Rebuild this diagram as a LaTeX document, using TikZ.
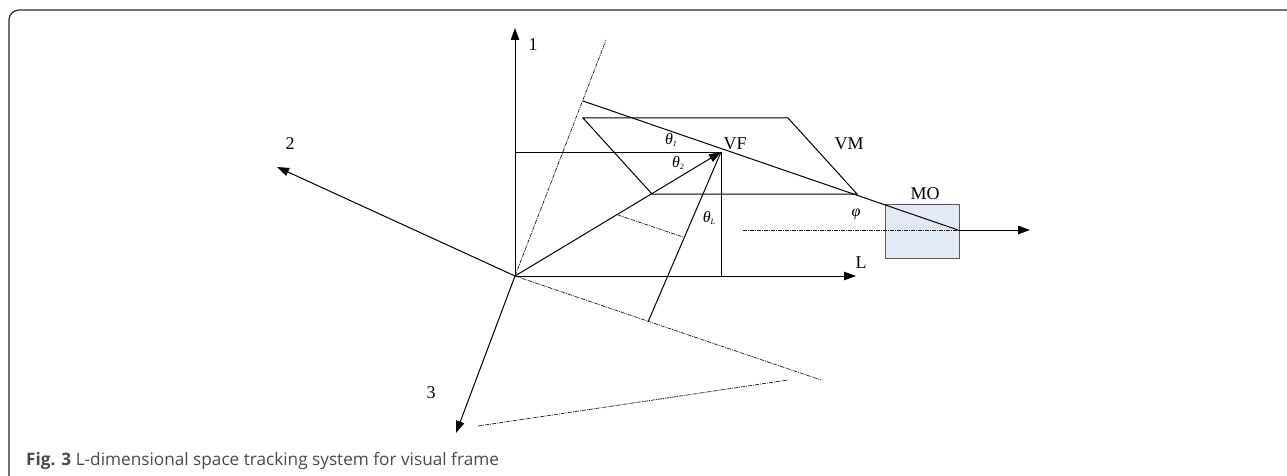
\documentclass[tikz,border=0pt]{standalone}
\usepackage{fontspec}
\setmainfont{Liberation Serif}
\newfontfamily\capfont{Open Sans}
\usetikzlibrary{arrows.meta}
\definecolor{boxfill}{HTML}{E4EAF5}
\definecolor{capgray}{HTML}{4A4A4A}
\newcommand{\subtxt}[1]{\raisebox{-2.5pt}{\fontsize{8}{8}\selectfont #1}}
\tikzset{
  ax/.style={line width=1pt,black,-{Triangle[length=12pt,width=8.5pt]}},
  ln/.style={line width=1pt,black},
  dd/.style={line width=0.7pt,black!90,dash pattern=on 4pt off 1pt on 1pt off 1pt},
  lab/.style={inner sep=0pt,font=\fontsize{18}{18}\selectfont},
  sm/.style={inner sep=0pt,font=\fontsize{16}{16}\selectfont\itshape}
}
\begin{document}
\begin{tikzpicture}[x=1pt,y=-1pt]
\useasboundingbox (0,0) rectangle (1287,476);
\draw[line width=1.2pt,black!85,rounded corners=10pt] (9,476) -- (9,10) -- (1287,10);
\coordinate (O) at (515,276);
\coordinate (A1) at (515,28);
\coordinate (A2) at (277,167);
\coordinate (A3) at (456,433);
\coordinate (AL) at (856,276);
\coordinate (VF) at (721,152);
\coordinate (H) at (515,152);
\coordinate (VB) at (721,276);
\coordinate (D1) at (606,40);
\coordinate (T1) at (583,101);
\coordinate (E) at (958,230);
\coordinate (EA) at (1030,230);
\coordinate (DS) at (743,230);
\coordinate (P1) at (583,118);
\coordinate (P2) at (788,118);
\coordinate (P3) at (857,194);
\coordinate (P4) at (652,194);
\coordinate (Q1) at (821,380);
\coordinate (Q2) at (788,380);
\coordinate (Q3) at (478,426);
\coordinate (F) at (648,322);
\coordinate (G1) at (618,215);
\coordinate (G2) at (683,237);
\node[draw=black!65,line width=0.9pt,fill=boxfill,minimum width=74pt,minimum height=54pt,inner sep=0pt] (MO) at (922,231) {};
\draw[ax] (O) -- (A1);
\draw[ax] (O) -- (A2);
\draw[ax] (O) -- (A3);
\draw[ax] (O) -- (AL);
\draw[ax] (O) -- (VF);
\draw[ln] (F) -- (VF);
\draw[ln] (H) -- (VF) -- (VB);
\draw[ln] (T1) -- (E);
\draw[ln] (P1) -- (P2) -- (P3) -- (P4) -- cycle;
\draw[ax] (E) -- (EA);
\draw[dd] (O) -- (D1);
\draw[dd] (O) -- (Q1);
\draw[dd] (Q3) -- (Q2);
\draw[dd] (G1) -- (G2);
\draw[dd] (DS) -- (E);
\node[lab] (n1) at (533,45) {1};
\node[lab] (n2) at (290,144) {2};
\node[lab] (n3) at (431,393) {3};
\node[lab] (nL) at (861,263) {L};
\node[lab] (nVF) at (735,144) {VF};
\node[lab] (nVM) at (849,144) {VM};
\node[lab] (nMO) at (925,194) {MO};
\node[sm] (phi) at (856,214) {φ};
\node[sm] (t1) at (671,140) {θ\subtxt{1}};
\node[sm] (t2) at (678,163) {θ\subtxt{2}};
\node[sm] (tL) at (709,218) {θ\subtxt{L}};
\node[anchor=base west,inner sep=0pt,text=capgray,font=\capfont\fontsize{17.2}{18}\selectfont] (cap) at (26,465) {\textbf{Fig. 3} L-dimensional space tracking system for visual frame};
\end{tikzpicture}
\end{document}
